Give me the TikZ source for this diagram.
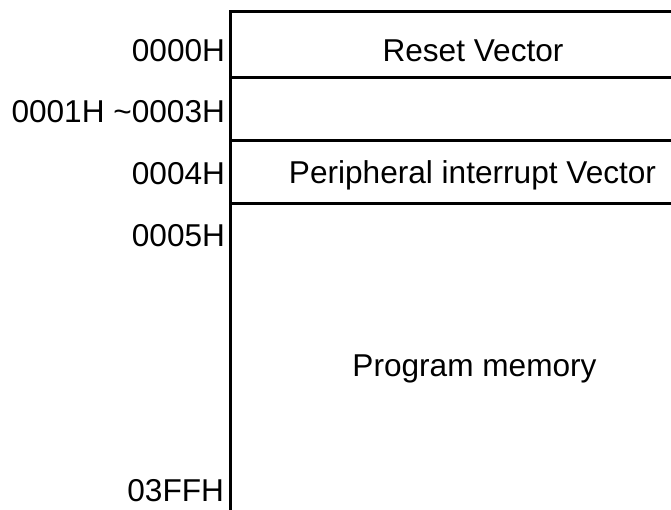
\documentclass[tikz,border=0pt]{standalone}
\usepackage{fontspec}
\setmainfont{Liberation Sans}
\begin{document}
\begin{tikzpicture}[x=1pt,y=-1pt,
  every node/.style={inner sep=0pt,outer sep=0pt,font=\fontsize{31.6}{36}\selectfont},
  addr/.style={anchor=base east},
  cell/.style={anchor=base},
  rule/.style={line width=2.7pt,line cap=rect}]
\useasboundingbox (0,0) rectangle (671,510);
% memory map outline
\coordinate (tl) at (230.5,11.7);
\coordinate (bl) at (230.5,512);
\coordinate (tr) at (672,11.7);
\coordinate (l1) at (230.5,77.7);
\coordinate (r1) at (672,77.7);
\coordinate (l2) at (230.5,140.7);
\coordinate (r2) at (672,140.7);
\coordinate (l3) at (230.5,203.3);
\coordinate (r3) at (672,203.3);
\draw[rule] (tr) -- (tl) -- (bl);
\draw[rule] (l1) -- (r1);
\draw[rule] (l2) -- (r2);
\draw[rule] (l3) -- (r3);
% addresses
\node[addr] (a0) at (225,61.7) {0000H};
\node[addr] (a1) at (225,122.3) {0001H \char`\~0003H};
\node[addr] (a4) at (225,185) {0004H};
\node[addr] (a5) at (225,246.7) {0005H};
\node[addr] (aF) at (224,501) {03FFH};
% contents
\node[cell] (reset) at (473,61.7) {Reset Vector};
\node[cell] (periph) at (472.5,184) {Peripheral interrupt Vector};
\node[cell] (prog) at (474.5,376.7) {Program memory};
\end{tikzpicture}
\end{document}
